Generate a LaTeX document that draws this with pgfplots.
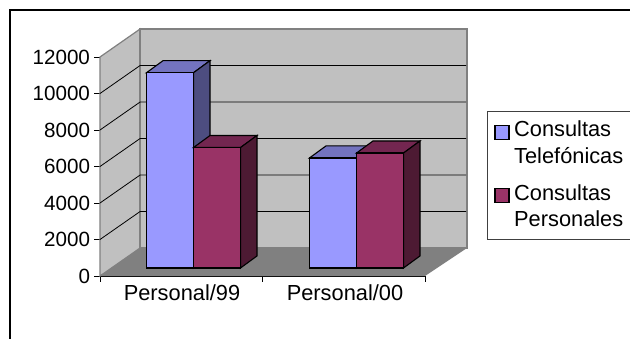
\documentclass[border=0pt]{standalone}
\usepackage{fontspec}
\setmainfont{Liberation Sans}
\usepackage{pgfplots}
\pgfplotsset{compat=1.18}
\definecolor{wall}{HTML}{C0C0C0}
\definecolor{walledge}{HTML}{808080}
\definecolor{floorc}{HTML}{808080}
\definecolor{telF}{HTML}{9999FF}
\definecolor{telT}{HTML}{7373BF}
\definecolor{telS}{HTML}{4D4D80}
\definecolor{perF}{HTML}{993366}
\definecolor{perT}{HTML}{732650}
\definecolor{perS}{HTML}{4D1A33}
\newcommand{\lblfont}{\fontsize{21.8}{24}\selectfont}
\newcommand{\numfont}{\fontsize{20.6}{24}\selectfont}
\begin{document}
\begin{tikzpicture}[x=1pt,y=1pt]
\useasboundingbox (0,0) rectangle (630,338);
\clip (0,0) rectangle (630,338);
% outer chart frame, running off the right and lower edges
\draw[black,line width=2pt] (9.5,-10) -- (9.5,328) -- (640,328);
\begin{axis}[
  at={(100pt,62pt)}, anchor=origin,
  scale only axis, width=325pt, height=219pt,
  xmin=100, xmax=425, ymin=0, ymax=12000,
  clip=false,
  axis x line=bottom, axis y line=left,
  axis line style={-,black,line width=0.9pt},
  tick style={black,line width=0.9pt},
  major tick length=5.5pt,
  tick align=outside,
  xtick={100,262.5,425}, xticklabels={},
  extra x ticks={182,345},
  extra x tick labels={Personal/99,Personal/00},
  extra x tick style={major tick length=0pt},
  ytick={0,2000,4000,6000,8000,10000,12000},
  scaled y ticks=false,
  yticklabel={\pgfmathprintnumber[fixed,precision=0,1000 sep={},assume math mode=true]{\tick}},
  xticklabel style={font=\lblfont,text=black,yshift=-5pt},
  yticklabel style={font=\numfont,text=black,xshift=-1pt},
]
% side wall, back wall and floor of the box
\addplot[fill=wall,draw=walledge,line width=1.2pt] coordinates {(100,0)(140,1530)(140,13530)(100,12000)} -- cycle;
\addplot[fill=wall,draw=walledge,line width=1.6pt] coordinates {(140,1530)(467,1530)(467,13530)(140,13530)} -- cycle;
\addplot[fill=floorc,draw=none] coordinates {(100,0)(425,0)(467,1530)(140,1530)} -- cycle;
\addplot[walledge,line width=1.6pt] coordinates {(140,1530)(467,1530)};
\addplot[walledge,line width=1.6pt] coordinates {(140,1530)(140,13530)};
% gridlines on the walls
\addplot[black,line width=0.8pt] coordinates {(100,2000)(140,3530)(466,3530)};
\addplot[black,line width=0.8pt] coordinates {(100,4000)(140,5530)(466,5530)};
\addplot[black,line width=0.8pt] coordinates {(100,6000)(140,7530)(466,7530)};
\addplot[black,line width=0.8pt] coordinates {(100,8000)(140,9530)(466,9530)};
\addplot[black,line width=0.8pt] coordinates {(100,10000)(140,11530)(466,11530)};
% Consultas Telefónicas: top and side faces, then front faces
\addplot[yshift=8pt,fill=telT,draw=black,line width=1.1pt] coordinates {(146.5,10700)(193.5,10700)(210,11360)(163,11360)} -- cycle;
\addplot[yshift=8pt,fill=telS,draw=black,line width=1.1pt] coordinates {(193.5,0)(210,660)(210,11360)(193.5,10700)} -- cycle;
\addplot[yshift=8pt,fill=telT,draw=black,line width=1.1pt] coordinates {(309.5,6030)(356.5,6030)(373,6690)(326,6690)} -- cycle;
\addplot[yshift=8pt,fill=telS,draw=black,line width=1.1pt] coordinates {(356.5,0)(373,660)(373,6690)(356.5,6030)} -- cycle;
\addplot[ybar,bar width=47pt,yshift=8pt,fill=telF,draw=black,line width=1.1pt] coordinates {(170,10700)(333,6030)};
% Consultas Personales: top and side faces, then front faces
\addplot[yshift=8pt,fill=perT,draw=black,line width=1.1pt] coordinates {(193.5,6600)(240.5,6600)(257,7260)(210,7260)} -- cycle;
\addplot[yshift=8pt,fill=perS,draw=black,line width=1.1pt] coordinates {(240.5,0)(257,660)(257,7260)(240.5,6600)} -- cycle;
\addplot[yshift=8pt,fill=perT,draw=black,line width=1.1pt] coordinates {(356.5,6300)(403.5,6300)(420,6960)(373,6960)} -- cycle;
\addplot[yshift=8pt,fill=perS,draw=black,line width=1.1pt] coordinates {(403.5,0)(420,660)(420,6960)(403.5,6300)} -- cycle;
\addplot[ybar,bar width=47pt,yshift=8pt,fill=perF,draw=black,line width=1.1pt] coordinates {(217,6600)(380,6300)};
\end{axis}
% legend box, open past the right edge
\draw[black!75,line width=0.8pt] (640,226.5) -- (487,226.5) -- (487,99) -- (640,99);
\draw[black,line width=1.1pt,fill=telF] (495,198.7) rectangle (509,212.7);
\draw[black,line width=1.1pt,fill=perF] (495,135.7) rectangle (509,149.7);
\node[anchor=base west,inner sep=0pt,font=\lblfont] at (514,201) {Consultas};
\node[anchor=base west,inner sep=0pt,font=\lblfont] at (514,174.5) {Telefónicas};
\node[anchor=base west,inner sep=0pt,font=\lblfont] at (514,138) {Consultas};
\node[anchor=base west,inner sep=0pt,font=\lblfont] at (514,111.5) {Personales};
\end{tikzpicture}
\end{document}
